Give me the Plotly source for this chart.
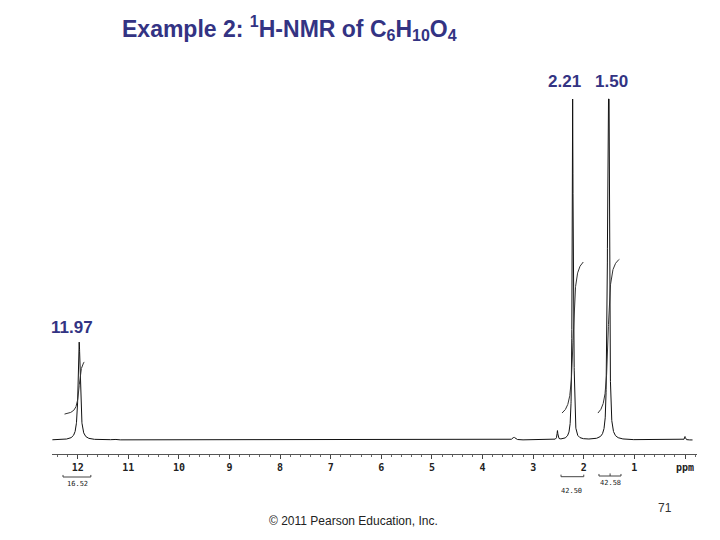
import numpy as np
import plotly.graph_objects as go

# ---- data ----
# spectrum peaks: chemical shift (ppm), relative height (tallest = 100), half width (ppm)
peak_ppm = [11.97, 2.22, 2.19, 2.52, 3.38, 1.52, 1.505, 1.55, 1.48, 0.00, 11.28]
peak_height = [28.7, 100.0, 9.4, 2.6, 0.8, 100.0, 96.0, 7.9, 3.0, 1.0, 0.3]
peak_width = [0.025, 0.011, 0.008, 0.010, 0.030, 0.011, 0.011, 0.008, 0.008, 0.010, 0.030]

# labelled shifts shown above the peaks
shift_labels = ["11.97", "2.21", "1.50"]

# integrals
integ_labels = ["16.52", "42.50", "42.58"]
integ_center = [11.97, 2.21, 1.52]
integ_start = [12.26, 2.43, 1.72]
integ_end = [11.87, 2.01, 1.30]
integ_low = [7.6, 7.9, 7.9]
integ_high = [22.9, 52.2, 53.0]
bracket_left = [12.29, 2.45, 1.70]
bracket_right = [11.74, 2.00, 1.265]

# axis
tick_vals = [0, 1, 2, 3, 4, 5, 6, 7, 8, 9, 10, 11, 12]
tick_text = ["ppm", "1", "2", "3", "4", "5", "6", "7", "8", "9", "10", "11", "12"]

# ---- build ----
ppm = np.arange(12.5, -0.15, -0.001)
spec = np.zeros_like(ppm)
for p, h, w in zip(peak_ppm, peak_height, peak_width):
    spec += h / (1.0 + ((ppm - p) / w) ** 2)
spec = np.minimum(spec, 100.0)

fig = go.Figure()
fig.add_trace(go.Scatter(x=ppm, y=spec, mode="lines",
                         line=dict(color="#111111", width=1), hoverinfo="skip"))

for c, s, e, lo, hi in zip(integ_center, integ_start, integ_end, integ_low, integ_high):
    xi = np.linspace(s, e, 300)
    w = 0.035
    a0 = np.arctan((c - s) / w)
    a1 = np.arctan((c - e) / w)
    f = (np.arctan((c - xi) / w) - a0) / (a1 - a0)
    fig.add_trace(go.Scatter(x=xi, y=lo + (hi - lo) * f, mode="lines",
                             line=dict(color="#333333", width=1), hoverinfo="skip"))

# integral brackets and values below the axis
bracket_y = [-10.85, -10.76, -10.56]
label_y = [-12.9, -14.9, -12.5]
label_x = [12.0, 2.233, 1.48]
for i in range(3):
    l, r, y = bracket_left[i], bracket_right[i], bracket_y[i]
    fig.add_shape(type="path",
                  path=f"M {l},{y+0.6} L {l},{y} L {r},{y} L {r},{y+0.6}",
                  xref="x", yref="y", line=dict(color="#444444", width=1))
    fig.add_annotation(x=label_x[i], y=label_y[i], xref="x", yref="y",
                       text=integ_labels[i], showarrow=False,
                       xanchor="center", yanchor="middle",
                       font=dict(family="DejaVu Sans Mono", size=7, color="#222222"))
fig.add_shape(type="line", x0=1.48, x1=1.48, y0=-10.56, y1=-9.8,
              xref="x", yref="y", line=dict(color="#444444", width=1))

W, H = 720, 540
def px(x):
    return x / W
def py(y):
    return 1 - y / H

navy = "#333383"
small = "<span style='font-size:16px'>{}</span>"
title = ("Example 2: <sup>" + small.format("1") + "</sup>H-NMR of C<sub>" + small.format("6")
         + "</sub>H<sub>" + small.format("10") + "</sub>O<sub>" + small.format("4") + "</sub>")
fig.add_annotation(x=px(289), y=py(29), xref="paper", yref="paper",
                   text=title, showarrow=False, xanchor="center", yanchor="middle",
                   font=dict(family="Liberation Sans", size=23, color=navy, weight="bold"))
for txt, xx, yy in zip(shift_labels, [72, 564, 611], [327, 81, 81]):
    fig.add_annotation(x=px(xx), y=py(yy), xref="paper", yref="paper", text=txt,
                       showarrow=False, xanchor="center", yanchor="middle",
                       font=dict(family="Liberation Sans", size=17, color=navy, weight="bold"))
fig.add_annotation(x=px(353), y=py(521), xref="paper", yref="paper",
                   text="© 2011 Pearson Education, Inc.", showarrow=False,
                   xanchor="center", yanchor="middle",
                   font=dict(family="Liberation Sans", size=12, color="#222222"))
fig.add_annotation(x=px(665), y=py(508), xref="paper", yref="paper", text="71",
                   showarrow=False, xanchor="center", yanchor="middle",
                   font=dict(family="Liberation Sans", size=12, color="#333333"))

x_left = (685 - 52) / 50.61
x_right = (685 - 697) / 50.61
fig.update_layout(
    width=W, height=H, margin=dict(l=0, r=0, t=0, b=0),
    paper_bgcolor="white", plot_bgcolor="white", showlegend=False,
    xaxis=dict(domain=[52 / W, 697 / W], range=[x_left, x_right],
               anchor="free", position=(H - 454) / H,
               showgrid=False, zeroline=False, showline=True,
               linecolor="#555555", linewidth=1,
               tickvals=tick_vals, ticktext=tick_text,
               ticks="outside", ticklen=4, tickcolor="#444444",
               tickfont=dict(family="DejaVu Sans Mono", size=10, color="#222222", weight="bold"),
               minor=dict(dtick=0.2, tick0=0, ticks="outside", ticklen=2, tickcolor="#666666"),
               fixedrange=True),
    yaxis=dict(domain=[0, 1], range=[(440 - 540) / 3.41, 440 / 3.41], visible=False,
               fixedrange=True),
)

fig.write_html("out.html", config={"displayModeBar": False},
               post_script="document.body.style.margin='0';document.body.style.overflow='hidden';")
